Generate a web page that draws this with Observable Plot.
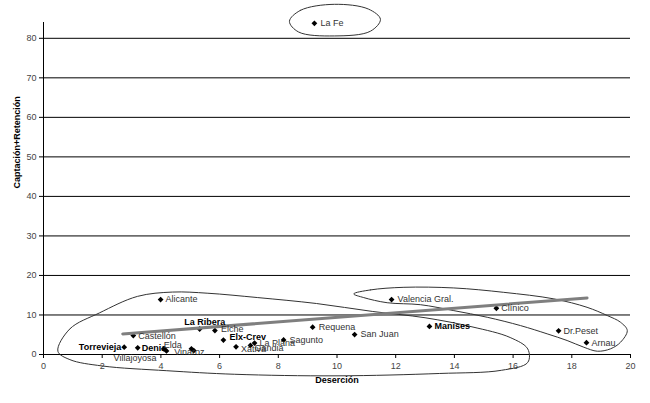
<!DOCTYPE html>
<html>
<head>
<meta charset="utf-8">
<script src="https://cdn.jsdelivr.net/npm/d3@7"></script>
<script src="https://cdn.jsdelivr.net/npm/@observablehq/plot@0.6"></script>
<style>
  html, body { margin: 0; padding: 0; background: #fff; }
  #chart svg { display: block; }
</style>
</head>
<body>
<div id="chart"></div>
<script>
// ---------- DATA ----------
const hospitals = ["La Fe","Alicante","Valencia Gral.","Clínico","Dr.Peset","Arnau","Manises","San Juan","Requena","Sagunto","La Plana","Gandia","Xàtiva","Elx-Crev","Elche","La Ribera","Castellón","Torrevieja","Denia","Elda","Villajoyosa","Vinaroz",""];
const desercion = [9.23, 3.99, 11.86, 15.43, 17.55, 18.5, 13.15, 10.6, 9.17, 8.18, 7.19, 7.05, 6.56, 6.13, 5.84, 5.32, 3.06, 2.75, 3.21, 4.1, 4.19, 5.04, 5.12];
const captacion = [83.8, 13.9, 13.9, 11.7, 6.0, 3.0, 7.1, 5.05, 6.9, 3.7, 2.9, 2.3, 1.95, 3.65, 6.06, 6.45, 4.8, 1.85, 1.7, 1.45, 0.9, 1.45, 1.0];
const boldNames = ["Manises","Elx-Crev","La Ribera","Torrevieja","Denia"];

const xTicks = [0,2,4,6,8,10,12,14,16,18,20];
const yTicks = [0,10,20,30,40,50,60,70,80];
const xTitle = "Deserción";
const yTitle = "Captación+Retención";

// trend line (two end points)
const trendX = [2.7, 18.52];
const trendY = [5.2, 14.3];

// hand-drawn loops (control points, data units)
const loopLaFeX = [8.38, 8.76, 9.91, 11.07, 11.48, 11.14, 9.91, 8.69];
const loopLaFeY = [84.3, 87.1, 88.6, 87.4, 84.8, 81.8, 80.6, 81.6];

const loopLeftX = [0.49, 0.9, 1.9, 3.2, 4.4, 5.6, 7.3, 9.3, 11.2, 13.0, 14.6, 15.9, 16.5, 16.5, 15.6, 13.5, 10.0, 6.5, 4.2, 2.0, 0.9];
const loopLeftY = [0.83, 6.5, 10.5, 14.7, 15.8, 15.5, 14.4, 12.9, 10.9, 9.3, 7.0, 4.3, 1.4, -2.0, -4.0, -4.8, -5.4, -5.0, -4.1, -2.9, -1.3];

const loopRightX = [10.57, 11.14, 12.28, 13.98, 15.68, 17.39, 18.52, 19.21, 19.66, 19.89, 19.66, 19.32, 18.87, 18.41, 17.84, 17.16, 16.25, 15.12, 13.98, 12.84, 11.71, 10.91];
const loopRightY = [15.33, 16.34, 17.0, 16.84, 15.73, 14.07, 11.94, 9.85, 8.16, 6.06, 3.1, 1.44, 0.83, 1.84, 3.54, 5.23, 7.32, 9.42, 11.1, 12.6, 13.1, 14.4];

// ---------- LAYOUT (label placement, px) ----------
const labelPlace = {
  "La Fe": {dx: 6, dy: 0, anchor: "start"},
  "Alicante": {dx: 5, dy: 0, anchor: "start"},
  "Valencia Gral.": {dx: 6, dy: 0, anchor: "start"},
  "Clínico": {dx: 5, dy: 0, anchor: "start"},
  "Dr.Peset": {dx: 5, dy: 0, anchor: "start"},
  "Arnau": {dx: 5, dy: 0, anchor: "start"},
  "Manises": {dx: 5, dy: 0, anchor: "start"},
  "San Juan": {dx: 6, dy: 0, anchor: "start"},
  "Requena": {dx: 6, dy: 0, anchor: "start"},
  "Sagunto": {dx: 6, dy: 0, anchor: "start"},
  "La Plana": {dx: 5, dy: 0, anchor: "start"},
  "Gandia": {dx: 4, dy: 3, anchor: "start"},
  "Xàtiva": {dx: 5, dy: 2, anchor: "start"},
  "Elx-Crev": {dx: 6, dy: -3, anchor: "start"},
  "Elche": {dx: 6, dy: -1, anchor: "start"},
  "La Ribera": {dx: 5, dy: -7, anchor: "middle"},
  "Castellón": {dx: 5, dy: 1, anchor: "start"},
  "Torrevieja": {dx: -3, dy: 0, anchor: "end"},
  "Denia": {dx: 4, dy: 0, anchor: "start"},
  "Elda": {dx: 0, dy: -4, anchor: "start"},
  "Villajoyosa": {dx: -10, dy: 7, anchor: "end"},
  "Vinaroz": {dx: -2, dy: 3, anchor: "middle"},
  "": {dx: 0, dy: 0, anchor: "start"}
};

// ---------- BUILD ----------
const points = hospitals.map((name, i) => ({name, x: desercion[i], y: captacion[i]}));
const trend = trendX.map((x, i) => ({x, y: trendY[i]}));
const toPts = (xs, ys) => xs.map((x, i) => ({x, y: ys[i]}));
const loops = [toPts(loopLaFeX, loopLaFeY), toPts(loopLeftX, loopLeftY), toPts(loopRightX, loopRightY)];

const font = "'Liberation Sans', Arial, sans-serif";

const labelMarks = points.filter(p => p.name).map(p => {
  const pl = labelPlace[p.name];
  const bold = boldNames.includes(p.name);
  return Plot.text([p], {
    x: "x", y: "y", text: "name",
    dx: pl.dx, dy: pl.dy, textAnchor: pl.anchor,
    fontSize: 9, fontWeight: bold ? "bold" : "normal",
    fill: bold ? "#000" : "#333"
  });
});

const chart = Plot.plot({
  width: 650,
  height: 403,
  marginLeft: 43,
  marginRight: 20,
  marginTop: 22,
  marginBottom: 49,
  style: {fontFamily: font, fontSize: "9px", background: "#fff", overflow: "visible"},
  x: {domain: [0, 20]},
  y: {domain: [0, 84]},
  marks: [
    Plot.ruleY(yTicks.filter(d => d > 0), {stroke: "#000", strokeWidth: 1}),
    Plot.ruleY([0], {stroke: "#000", strokeWidth: 1}),
    Plot.ruleX([0], {stroke: "#000", strokeWidth: 1}),
    Plot.axisX({ticks: xTicks, tickSize: 4, tickPadding: 4, label: null, fill: "#444", stroke: "#000", fontSize: 9}),
    Plot.axisY({ticks: yTicks, tickSize: 4, tickPadding: 3, label: null, fill: "#444", stroke: "#000", fontSize: 9}),
    ...loops.map(l => Plot.line(l, {x: "x", y: "y", curve: "catmull-rom-closed", stroke: "#333", strokeWidth: 1})),
    Plot.dot(points, {x: "x", y: "y", symbol: "diamond2", r: 2.6, fill: "#000", stroke: "none"}),
    Plot.line(trend, {x: "x", y: "y", stroke: "#7f7f7f", strokeWidth: 3}),
    ...labelMarks,
    Plot.text([xTitle], {frameAnchor: "bottom", dy: 28, text: d => d, fontWeight: "bold", fontSize: 9, fill: "#000"}),
    Plot.text([yTitle], {frameAnchor: "left", dx: -26, rotate: -90, text: d => d, fontWeight: "bold", fontSize: 9, fill: "#000"})
  ]
});
document.getElementById("chart").appendChild(chart);
</script>
</body>
</html>
